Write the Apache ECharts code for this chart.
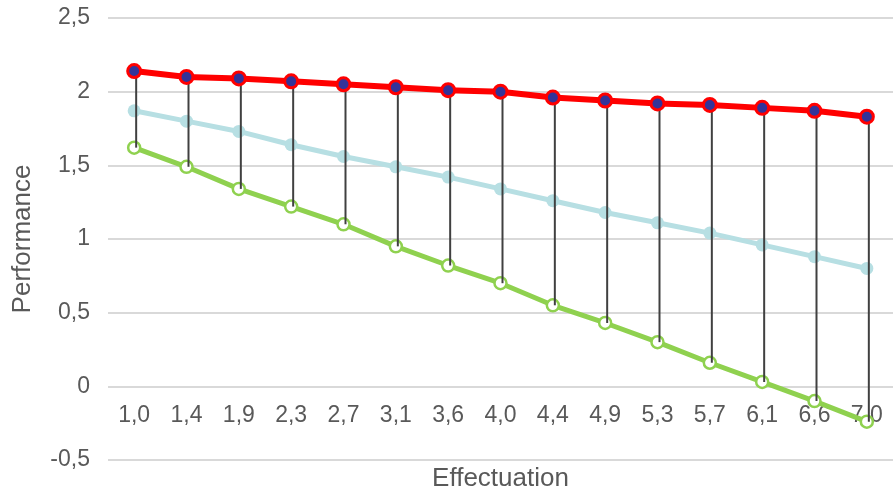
<!DOCTYPE html>
<html>
<head>
<meta charset="utf-8">
<style>
  html, body { margin: 0; padding: 0; background: #fff; }
  #chart { width: 893px; height: 493px; }
</style>
<script src="https://cdn.jsdelivr.net/npm/echarts@6/dist/echarts.min.js"></script>
</head>
<body>
<div id="chart"></div>
<script>
// categories (Effectuation)
var categories = ['1,0', '1,4', '1,9', '2,3', '2,7', '3,1', '3,6', '4,0', '4,4', '4,9', '5,3', '5,7', '6,1', '6,6', '7,0'];
// top series (red)
var highValues = [2.14, 2.10, 2.09, 2.07, 2.05, 2.03, 2.01, 2.00, 1.96, 1.94, 1.92, 1.91, 1.89, 1.87, 1.83];
// middle series (light blue)
var midValues = [1.87, 1.80, 1.73, 1.64, 1.56, 1.49, 1.42, 1.34, 1.26, 1.18, 1.11, 1.04, 0.96, 0.88, 0.80];
// bottom series (green)
var lowValues = [1.62, 1.49, 1.34, 1.22, 1.10, 0.95, 0.82, 0.70, 0.55, 0.43, 0.30, 0.16, 0.03, -0.10, -0.24];

var chart = echarts.init(document.getElementById('chart'), null, { renderer: 'canvas' });

var txtColor = '#595959';
var font = 'Liberation Sans, Arial, sans-serif';

// high-low lines: [index, high, low]
var hlData = categories.map(function (c, i) {
    return [i, highValues[i], lowValues[i]];
});

// x axis sits on the 0 line: move it up from the grid bottom (-0,5)
var gridTop = 18, gridBottom = 33;
var plotH = 493 - gridTop - gridBottom;
var xOffset = -plotH * (0.5 / 3);

var option = {
    animation: false,
    grid: {
        left: 108,
        right: 0,
        top: gridTop,
        bottom: gridBottom,
        containLabel: false,
        outerBoundsMode: 'none'
    },
    xAxis: {
        type: 'category',
        data: categories,
        boundaryGap: true,
        offset: xOffset,
        name: 'Effectuation',
        nameLocation: 'middle',
        nameGap: 79,
        nameTextStyle: { color: txtColor, fontSize: 26, fontFamily: font },
        axisLine: { show: false, onZero: false },
        axisTick: { show: false },
        axisLabel: { color: txtColor, fontSize: 23, fontFamily: font, margin: 18 },
        splitLine: { show: false }
    },
    yAxis: {
        type: 'value',
        min: -0.5,
        max: 2.5,
        interval: 0.5,
        name: 'Performance',
        nameLocation: 'middle',
        nameRotate: 90,
        nameGap: 72,
        nameTextStyle: { color: txtColor, fontSize: 26, fontFamily: font },
        axisLine: { show: false },
        axisTick: { show: false },
        axisLabel: {
            color: txtColor, fontSize: 23, fontFamily: font, margin: 18,
            formatter: function (v) { return String(v).replace('.', ','); }
        },
        splitLine: { lineStyle: { color: '#d9d9d9', width: 2 } }
    },
    series: [
        {
            name: 'mid',
            type: 'line',
            data: midValues,
            symbol: 'circle',
            symbolSize: 13,
            lineStyle: { color: '#b7dfe3', width: 5 },
            itemStyle: { color: '#b7dfe3', borderWidth: 0 },
            z: 2
        },
        {
            name: 'low',
            type: 'line',
            data: lowValues,
            symbol: 'circle',
            symbolSize: 12,
            lineStyle: { color: '#8fd14f', width: 5 },
            itemStyle: { color: '#ffffff', borderColor: '#8fd14f', borderWidth: 2.5 },
            z: 3
        },
        {
            name: 'hilo',
            type: 'custom',
            data: hlData,
            renderItem: function (params, api) {
                var top = api.coord([api.value(0), api.value(1)]);
                var bot = api.coord([api.value(0), api.value(2)]);
                return {
                    type: 'line',
                    shape: { x1: top[0] + 2, y1: top[1], x2: bot[0] + 2, y2: bot[1] },
                    style: { stroke: '#404040', lineWidth: 2 }
                };
            },
            z: 4
        },
        {
            name: 'high',
            type: 'line',
            data: highValues,
            symbol: 'circle',
            symbolSize: 13,
            lineStyle: { color: '#ff0000', width: 6 },
            itemStyle: { color: '#333399', borderColor: '#ff0000', borderWidth: 3 },
            z: 5
        }
    ]
};

chart.setOption(option);

window.onresize = function () {
    chart.resize();
};
</script>
</body>
</html>
